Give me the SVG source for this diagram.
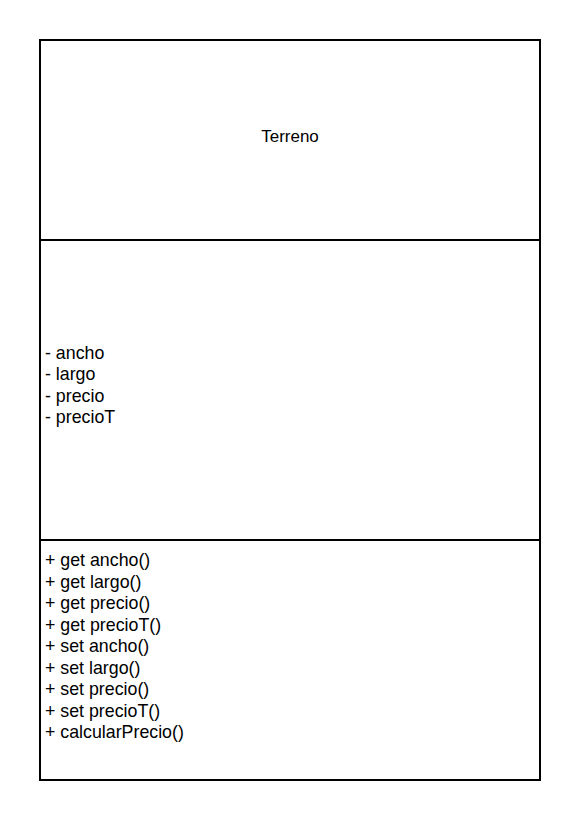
<svg xmlns="http://www.w3.org/2000/svg" width="580" height="820" viewBox="0 0 580 820">
<style>
.box{fill:#fff;stroke:#000;stroke-width:2}
.t{font-family:"Liberation Sans",Arial,sans-serif;font-size:17px;fill:#000}
.b{font-family:"Liberation Sans",Arial,sans-serif;font-size:17.8px;fill:#000}
</style>
<rect width="580" height="820" fill="#fff"/>
<g id="terreno">
<rect class="box" x="40" y="40" width="500" height="740"/>
<line x1="40" y1="240" x2="540" y2="240" stroke="#000" stroke-width="2"/>
<line x1="40" y1="540" x2="540" y2="540" stroke="#000" stroke-width="2"/>
<text class="t" x="290" y="142" text-anchor="middle">Terreno</text>
<text class="b" x="45">
<tspan x="45" y="358.5">- ancho</tspan>
<tspan x="45" y="380">- largo</tspan>
<tspan x="45" y="401.5">- precio</tspan>
<tspan x="45" y="423">- precioT</tspan>
</text>
<text class="b" x="45">
<tspan x="45" y="566">+ get ancho()</tspan>
<tspan x="45" y="587.5">+ get largo()</tspan>
<tspan x="45" y="609">+ get precio()</tspan>
<tspan x="45" y="630.5">+ get precioT()</tspan>
<tspan x="45" y="652">+ set ancho()</tspan>
<tspan x="45" y="673.5">+ set largo()</tspan>
<tspan x="45" y="695">+ set precio()</tspan>
<tspan x="45" y="716.5">+ set precioT()</tspan>
<tspan x="45" y="738">+ calcularPrecio()</tspan>
</text>
</g>
<g id="connectors"></g>
</svg>
